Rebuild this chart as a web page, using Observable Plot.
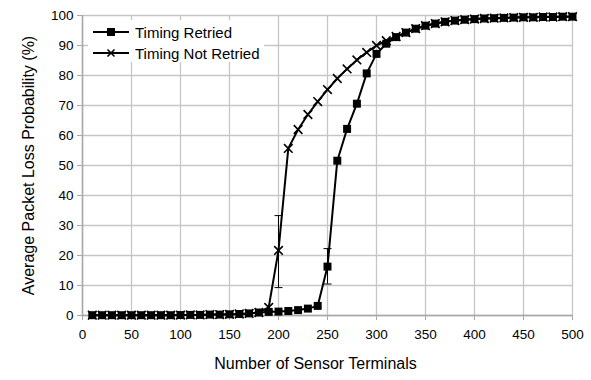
<!DOCTYPE html>
<html><head><meta charset="utf-8">
<script src="https://cdn.jsdelivr.net/npm/d3@7"></script>
<script src="https://cdn.jsdelivr.net/npm/@observablehq/plot@0.6"></script>
<style>
body{margin:0;background:#fff;font-family:"Liberation Sans",Arial,sans-serif;}
#wrap{position:relative;width:591px;height:380px;}
#legend{position:absolute;left:88px;top:20px;width:176px;height:42px;background:#fff;font-size:15px;color:#000;}
#legend .row{position:absolute;left:4px;height:20px;display:flex;align-items:center;}
#legend svg{margin-right:5px;}
</style></head>
<body><div id="wrap"><div id="chart"></div>
<div id="legend">
 <div class="row" style="top:2px"><svg width="38" height="12"><line x1="1" x2="37" y1="6" y2="6" stroke="#000" stroke-width="2"/><rect x="15" y="2" width="8" height="8" fill="#000"/></svg>Timing Retried</div>
 <div class="row" style="top:23px"><svg width="38" height="12"><line x1="1" x2="37" y1="6" y2="6" stroke="#000" stroke-width="2"/><path d="M15.5,2.5L22.5,9.5M22.5,2.5L15.5,9.5" stroke="#000" stroke-width="1.6"/></svg>Timing Not Retried</div>
</div></div>
<script>
const terminals = d3.range(10, 501, 10);
const retried = [0.1,0.1,0.1,0.1,0.1,0.1,0.1,0.1,0.1,0.15,0.2,0.2,0.3,0.3,0.4,0.5,0.7,1.0,1.2,1.3,1.5,1.8,2.3,3.2,16.3,51.6,62.2,70.6,80.7,87.2,90.6,92.8,94.3,95.6,96.6,97.3,97.9,98.3,98.6,98.8,99.0,99.1,99.2,99.3,99.4,99.4,99.5,99.5,99.6,99.6];
const notRetried = [0.1,0.1,0.1,0.1,0.1,0.1,0.1,0.1,0.1,0.15,0.2,0.2,0.3,0.3,0.4,0.5,0.7,1.0,2.7,21.7,55.7,62.0,67.0,71.3,75.3,79.0,82.2,85.2,87.7,90.0,91.6,93.0,94.3,95.6,96.6,97.3,97.9,98.3,98.6,98.8,99.0,99.1,99.2,99.3,99.4,99.4,99.5,99.5,99.6,99.6];
const errX = [200, 250];
const errLow = [9.3, 10.5];
const errHigh = [33.3, 22.3];
const xTitle = "Number of Sensor Terminals";
const yTitle = "Average Packet Loss Probability (%)";

const rows = (vals) => terminals.map((x, i) => ({x, y: vals[i]}));
const rData = rows(retried);
const nData = rows(notRetried);
const errData = errX.map((x, i) => ({x, lo: errLow[i], hi: errHigh[i]}));
const capSymbol = {draw(ctx, size){ const w = 4; ctx.moveTo(-w, 0); ctx.lineTo(w, 0); }};
const grid = "#c6c6c6";
const axisGray = "#a8a8a8";

const chart = Plot.plot({
  width: 591, height: 380,
  marginLeft: 82, marginRight: 19, marginTop: 15, marginBottom: 65,
  style: {fontFamily: '"Liberation Sans", Arial, sans-serif', fontSize: "13.5px", color: "#000", background: "#fff"},
  x: {domain: [0, 500]},
  y: {domain: [0, 100]},
  marks: [
    Plot.gridX(d3.range(0, 501, 50), {stroke: grid, strokeOpacity: 1, strokeWidth: 1.3}),
    Plot.gridY(d3.range(0, 101, 10), {stroke: grid, strokeOpacity: 1, strokeWidth: 1.3}),
    Plot.ruleX([0], {stroke: axisGray, strokeWidth: 1.5}),
    Plot.ruleY([0], {stroke: axisGray, strokeWidth: 1.5}),
    Plot.axisX({ticks: d3.range(0, 501, 50), tickSize: 5, tickPadding: 9, stroke: axisGray, fill: "#000", label: null}),
    Plot.axisY({ticks: d3.range(0, 101, 10), tickSize: 5, tickPadding: 4, stroke: axisGray, fill: "#000", label: null}),
    Plot.text([xTitle], {frameAnchor: "bottom", dy: 53, dx: -12, fontSize: 16, fill: "#000"}),
    Plot.text([yTitle], {frameAnchor: "left", dx: -54, rotate: -90, textAnchor: "middle", fontSize: 16, fill: "#000"}),
    Plot.ruleX(errData, {x: "x", y1: "lo", y2: "hi", stroke: "#000", strokeWidth: 1}),
    Plot.dot(errData, {x: "x", y: "lo", symbol: capSymbol, stroke: "#000", strokeWidth: 1, r: 3}),
    Plot.dot(errData, {x: "x", y: "hi", symbol: capSymbol, stroke: "#000", strokeWidth: 1, r: 3}),
    Plot.line(nData, {x: "x", y: "y", stroke: "#000", strokeWidth: 2}),
    Plot.dot(nData, {x: "x", y: "y", symbol: "times", stroke: "#000", strokeWidth: 1.6, r: 4}),
    Plot.line(rData, {x: "x", y: "y", stroke: "#000", strokeWidth: 2}),
    Plot.dot(rData, {x: "x", y: "y", symbol: "square", fill: "#000", stroke: "none", r: 4.5})
  ]
});
document.getElementById("chart").append(chart);
</script></body></html>
